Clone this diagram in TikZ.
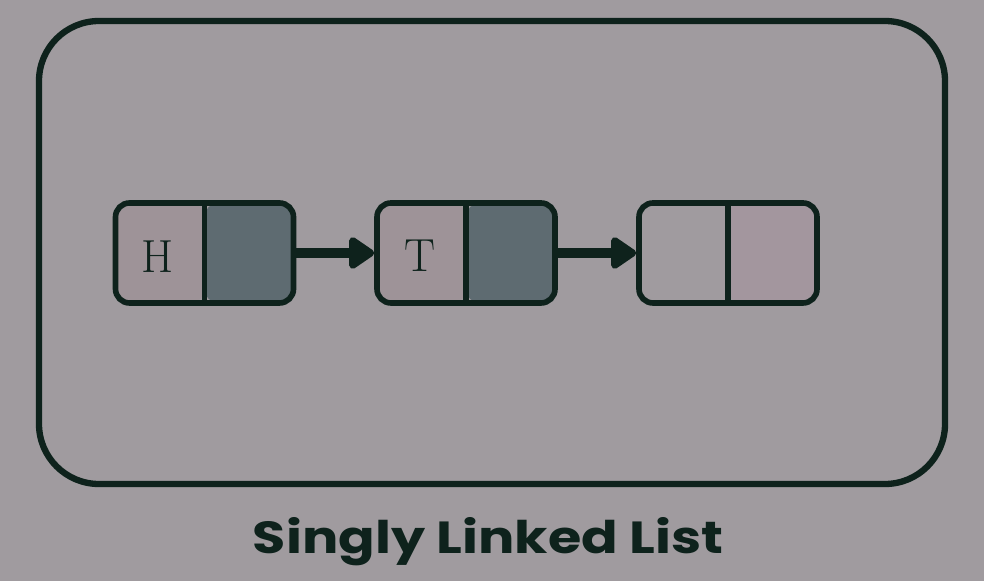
\documentclass[tikz,border=0pt]{standalone}
\usepackage{fontspec}
\newfontfamily\titlefont[FakeStretch=1.2]{Poppins}
\usetikzlibrary{arrows.meta}
\definecolor{bgcol}{HTML}{A09B9F}
\definecolor{inkcol}{HTML}{0E221C}
\definecolor{datacol}{HTML}{9E9398}
\definecolor{nextcol}{HTML}{5E6B71}
\definecolor{emptycol}{HTML}{A3969E}
\tikzset{
	listnode/.style 2 args={draw=inkcol, line width=4pt, rounded corners=0.35cm,
		minimum width=4.45cm, minimum height=2.5cm,
		path picture={
			\fill[#1] (path picture bounding box.south west) rectangle (path picture bounding box.north);
			\fill[#2] (path picture bounding box.north) rectangle (path picture bounding box.south east);
			\draw[inkcol, line width=4pt] (path picture bounding box.north) -- (path picture bounding box.south);
		}},
	link/.style={inkcol, line width=6.5pt, -{Triangle[length=0.7cm, width=0.9cm, round]}},
	letter/.style={text=inkcol, font=\fontsize{33}{33}\selectfont}
}
\begin{document}
\begin{tikzpicture}
		\fill[bgcol] (0,0) rectangle (24.6,14.525);
		\useasboundingbox (0,0) rectangle (24.6,14.525);
		% Frame
		\node[draw=inkcol, line width=4.5pt, rounded corners=1.5cm, minimum width=22.65cm, minimum height=11.575cm, inner sep=0pt] (Frame) at (12.3,8.2125) {};
		
		% Nodes
		\node[listnode={datacol}{nextcol}] (Head) at (5.1125,8.2) {};
		\node[listnode={datacol}{nextcol}] (Tail) at (11.65,8.2) {};
		\node[listnode={bgcol}{emptycol}] (Empty) at (18.2,8.2) {};
		\node[letter] (HeadData) at (3.95,8.12) {H};
		\node[letter] (TailData) at (10.5,8.12) {T};
		
		% Links
		\draw[link] (Head) -- (Tail);
		\draw[link] (Tail) -- (Empty);
		
		\node[text=inkcol, font=\titlefont\bfseries\fontsize{32}{32}\selectfont] (Title) at (12.2,0.98) {Singly Linked List};
	\end{tikzpicture}
\end{document}
